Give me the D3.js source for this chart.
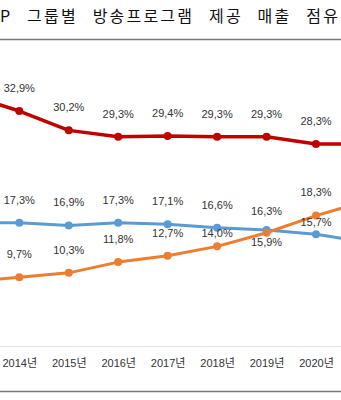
<!DOCTYPE html>
<html><head><meta charset="utf-8">
<script src="https://cdn.jsdelivr.net/npm/d3@7"></script>
<style>html,body{margin:0;padding:0;background:#fff;overflow:hidden}</style>
</head><body>
<svg id="c" width="341" height="400"></svg>
<script>
const years = ["2013년","2014년","2015년","2016년","2017년","2018년","2019년","2020년","2021년"];
const redValues = [35.1, 32.9, 30.2, 29.3, 29.4, 29.3, 29.3, 28.3, 28.3];
const blueValues = [17.3, 17.3, 16.9, 17.3, 17.1, 16.6, 16.3, 15.7, 14.6];
const orangeValues = [9.0, 9.7, 10.3, 11.8, 12.7, 14.0, 15.9, 18.3, 20.3];
const titleText = "P 그룹별 방송프로그램 제공 매출 점유";

const W = 341;
const svg = d3.select("#c");
const x = d3.scalePoint().domain(years).range([-30.15, 365.45]);
const y = d3.scaleLinear().domain([0, 40]).range([346.6, 346.6 - 40 * 7.16]);
const visible = yr => x(yr) > 0 && x(yr) < W;

// title
svg.append("text").attr("x", 0).attr("y", 22)
  .attr("font-family", "'Noto Sans CJK KR', sans-serif").attr("font-size", 16)
  .attr("letter-spacing", 2.2).attr("word-spacing", 9).attr("fill", "#111")
  .text(titleText);
svg.append("line").attr("x1", 0).attr("x2", W).attr("y1", 39.5).attr("y2", 39.5)
  .attr("stroke", "#777").attr("stroke-width", 1.5);

// axis band
svg.append("line").attr("x1", 0).attr("x2", W).attr("y1", y(0)).attr("y2", y(0))
  .attr("stroke", "#e2e2e2").attr("stroke-width", 1);
svg.append("line").attr("x1", 0).attr("x2", W).attr("y1", 391.5).attr("y2", 391.5)
  .attr("stroke", "#777").attr("stroke-width", 1.5);

const xAxis = svg.append("g").attr("transform", `translate(0,${y(0)})`)
  .call(d3.axisBottom(x).tickValues(years.filter(visible)).tickSize(0).tickPadding(13));
xAxis.select(".domain").remove();
xAxis.selectAll("text").attr("font-family", "'Liberation Sans', 'Noto Sans CJK KR', sans-serif")
  .attr("font-size", 11).attr("fill", "#333");

const series = [
  {key: "red", values: redValues, color: "#C00000", w: 3.5},
  {key: "blue", values: blueValues, color: "#5B9BD5", w: 3},
  {key: "orange", values: orangeValues, color: "#ED7D31", w: 3}
];
// label nudges (vertical offset of label centre from point)
const nudge = {"blue-2019년": -19, "blue-2020년": -12, "orange-2018년": -13, "orange-2019년": 9};

const line = d3.line().x((d, i) => x(years[i])).y(d => y(d));
series.forEach(s => {
  const g = svg.append("g");
  g.append("path").datum(s.values).attr("d", line).attr("fill", "none")
    .attr("stroke", s.color).attr("stroke-width", s.w).attr("stroke-linejoin", "round");
  g.selectAll("circle").data(s.values).join("circle")
    .attr("cx", (d, i) => x(years[i])).attr("cy", d => y(d)).attr("r", 4).attr("fill", s.color);
});
series.forEach(s => {
  const pts = s.values.map((v, i) => ({v, yr: years[i]})).filter(p => visible(p.yr));
  svg.append("g").selectAll("text").data(pts).join("text")
    .attr("x", p => x(p.yr))
    .attr("y", p => y(p.v) + (nudge[s.key + "-" + p.yr] ?? -23))
    .attr("dy", "0.35em").attr("text-anchor", "middle")
    .attr("font-family", "'Liberation Sans', sans-serif").attr("font-size", 11).attr("fill", "#333")
    .text(p => p.v.toFixed(1).replace(".", ",") + "%");
});
</script>
</body></html>
